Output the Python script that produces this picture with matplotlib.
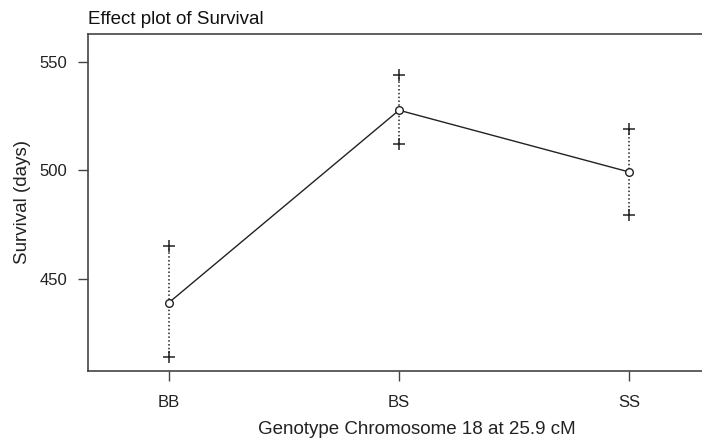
import numpy as np
import matplotlib.pyplot as plt

plt.rcParams['font.family'] = ['Liberation Sans', 'DejaVu Sans']

genotipos = ['BB', 'BS', 'SS']
efecto = [439.0, 527.8, 499.3]
inferior = [413.8, 512.0, 479.5]
superior = [465.3, 544.0, 519.2]

W, H = 702, 440
fig = plt.figure(figsize=(W / 100, H / 100), dpi=100)
# ejes: izquierda 88 px, arriba 34 px, abajo 371 px; el borde derecho queda fuera
ax = fig.add_axes([88 / W, 1 - 371 / H, 1 - 88 / W, (371 - 34) / H])

x = np.arange(len(genotipos))
col = '#222222'

# intervalos de confianza punteados
ax.vlines(x, inferior, superior, colors=col, linestyles=(0, (1, 1.5)), linewidth=1.1)
ax.plot(x, inferior, '+', color=col, markersize=8.5, markeredgewidth=1.1)
ax.plot(x, superior, '+', color=col, markersize=8.5, markeredgewidth=1.1)
# linea del efecto
ax.plot(x, efecto, '-', color=col, linewidth=1.0)
ax.plot(x, efecto, 'o', color=col, markersize=5.5, markerfacecolor='white',
        markeredgewidth=1.0, zorder=5)

ax.set_xlim(-0.352, 2.317)
ax.set_ylim(407.4, 563.0)
ax.set_xticks(x)
ax.set_xticklabels(genotipos)
ax.set_yticks([450, 500, 550])

for s in ['top', 'bottom', 'left']:
    ax.spines[s].set_color('#444444')
    ax.spines[s].set_linewidth(1.2)
ax.spines['right'].set_visible(False)
ax.tick_params(axis='both', direction='out', length=7, width=1.0, color='#444444',
               labelsize=12, labelcolor='#222222')
ax.tick_params(axis='x', pad=10)
ax.tick_params(axis='y', pad=8)

fig.text(88 / W, 1 - 19 / H, 'Effect plot of Survival', fontsize=13.5, color='#111111',
         ha='left', va='center')
fig.text(417 / W, 1 - 429 / H, 'Genotype Chromosome 18 at 25.9 cM', fontsize=13.5,
         color='#222222', ha='center', va='center')
fig.text(23 / W, 1 - 202 / H, 'Survival (days)', fontsize=13.5, color='#222222',
         ha='center', va='center', rotation=90)

fig.savefig('out.png', dpi=100)
